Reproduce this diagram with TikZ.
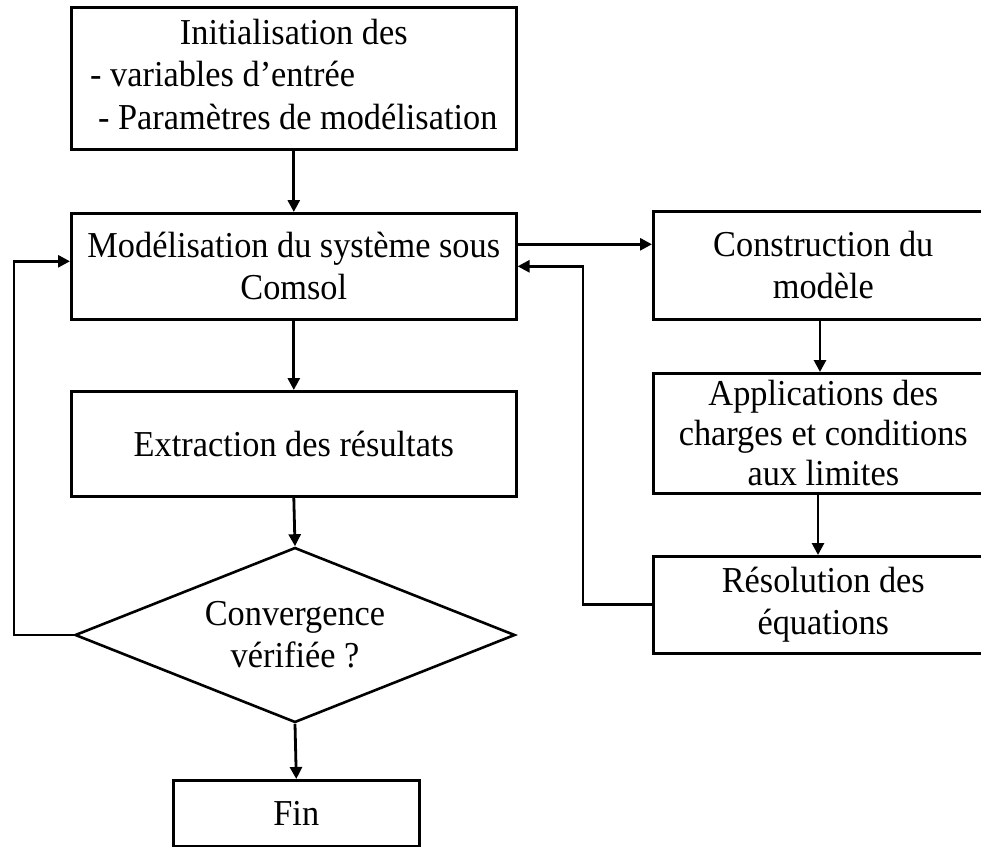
\documentclass[tikz,border=0pt]{standalone}
\usepackage{fontspec}
\setmainfont[FakeStretch=0.94]{Liberation Serif}
\usetikzlibrary{arrows.meta,shapes.geometric}
\begin{document}
\begin{tikzpicture}[x=1pt,y=-1pt,
  txt/.style={font=\fontsize{36.5}{42}\selectfont, align=center},
  box/.style={txt, draw, line width=2.6pt, inner sep=0pt, anchor=north west},
  dia/.style={txt, draw, diamond, line width=2.6pt, inner sep=0pt, aspect=2.51},
  arr/.style={line width=2.8pt, -{Triangle[length=12pt,width=12pt]}}]
\clip (0,0) rectangle (981,846);
% left column
\node[box, minimum width=445pt, minimum height=142pt] (init) at (70,6)
  {\raisebox{-9pt}{\renewcommand\arraystretch{1.02}\begin{tabular}{@{}l@{}}\multicolumn{1}{@{}c@{}}{Initialisation des}\\- variables d’entrée\\\hspace*{8pt}- Paramètres de modélisation\end{tabular}}};
\node[box, minimum width=445pt, minimum height=106pt] (model) at (70,212) {Modélisation du système sous\\Comsol};
\node[box, minimum width=445pt, minimum height=105pt] (extr) at (70,390) {Extraction des résultats};
\node[dia, minimum width=440pt, minimum height=175pt] (conv) at (295,635) {Convergence\\vérifiée ?};
\node[box, minimum width=246pt, minimum height=66pt] (fin) at (172,779) {Fin};
% right column
\node[box, minimum width=340pt, minimum height=108pt] (constr) at (652,210) {Construction du\\modèle};
\node[box, minimum width=340pt, minimum height=120pt, font=\fontsize{36.5}{40}\selectfont] (appl) at (652,372) {Applications des\\charges et conditions\\aux limites};
\node[box, minimum width=340pt, minimum height=97pt] (resol) at (652,555) {Résolution des\\équations};
% helper coordinates
\coordinate (lc) at (14,0);
\coordinate (rc) at (583,0);
\coordinate (mw) at ([yshift=5pt]model.west);
\coordinate (me) at ([yshift=22pt]model.east);
% connectors
\draw[arr] (init.south) -- (model.north);
\draw[arr] (model.south) -- (extr.north);
\draw[arr] (extr.south) -- (conv.north);
\draw[arr] (conv.south) -- (fin.north);
\draw[arr] (me) -- (me -| constr.west);
\draw[arr] (constr.south -| 820,0) -- (appl.north -| 820,0);
\draw[arr] (appl.south -| 818,0) -- (resol.north -| 818,0);
\draw[arr] (resol.west) -| (rc |- model.east) -- (model.east);
\draw[arr] (conv.west) -| (lc |- mw) -- (mw);
\end{tikzpicture}
\end{document}
